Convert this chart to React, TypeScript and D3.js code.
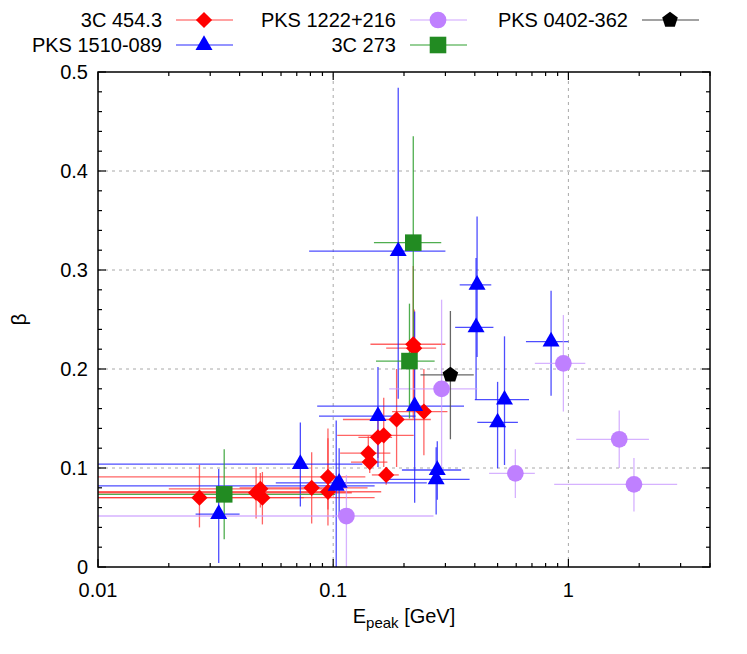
import React from 'react';
import * as d3 from 'd3';

// each row: [Epeak, Epeak low, Epeak high, beta, beta low, beta high]
const src3C454 = [
  [0.027, 0.005, 0.075, 0.07, 0.04, 0.103],
  [0.047, 0.005, 0.12, 0.075, 0.049, 0.101],
  [0.049, 0.02, 0.09, 0.079, 0.06, 0.095],
  [0.05, 0.005, 0.15, 0.07, 0.043, 0.096],
  [0.081, 0.04, 0.14, 0.08, 0.044, 0.116],
  [0.095, 0.005, 0.137, 0.091, 0.058, 0.14],
  [0.095, 0.005, 0.16, 0.076, 0.042, 0.13],
  [0.141, 0.107, 0.175, 0.115, 0.1, 0.132],
  [0.143, 0.119, 0.17, 0.106, 0.095, 0.115],
  [0.155, 0.128, 0.178, 0.131, 0.11, 0.15],
  [0.164, 0.104, 0.22, 0.133, 0.101, 0.171],
  [0.168, 0.146, 0.19, 0.093, 0.083, 0.101],
  [0.186, 0.11, 0.26, 0.149, 0.101, 0.2],
  [0.219, 0.144, 0.3, 0.225, 0.15, 0.304],
  [0.221, 0.168, 0.274, 0.221, 0.16, 0.26],
  [0.243, 0.178, 0.306, 0.157, 0.113, 0.2],
];

const srcPKS1510 = [
  [0.0326, 0.026, 0.04, 0.0535, 0.004, 0.099],
  [0.0725, 0.005, 0.133, 0.104, 0.061, 0.146],
  [0.103, 0.005, 0.15, 0.082, 0.0, 0.148],
  [0.106, 0.057, 0.25, 0.085, 0.05, 0.12],
  [0.155, 0.087, 0.224, 0.1525, 0.101, 0.202],
  [0.189, 0.079, 0.3, 0.319, 0.17, 0.484],
  [0.222, 0.0855, 0.36, 0.1626, 0.065, 0.258],
  [0.274, 0.164, 0.38, 0.0886, 0.053, 0.121],
  [0.277, 0.196, 0.35, 0.098, 0.068, 0.127],
  [0.405, 0.33, 0.48, 0.242, 0.169, 0.312],
  [0.409, 0.345, 0.47, 0.285, 0.212, 0.354],
  [0.5, 0.41, 0.61, 0.146, 0.0997, 0.187],
  [0.535, 0.4, 0.68, 0.169, 0.103, 0.233],
  [0.844, 0.66, 1.0, 0.2276, 0.173, 0.279],
];

const srcPKS1222 = [
  [0.1138, 0.005, 0.267, 0.0515, -0.01, 0.093],
  [0.289, 0.173, 0.41, 0.18, 0.101, 0.27],
  [0.595, 0.46, 0.72, 0.0946, 0.0697, 0.119],
  [0.952, 0.72, 1.18, 0.2057, 0.157, 0.2545],
  [1.645, 1.08, 2.2, 0.129, 0.1, 0.158],
  [1.9, 0.87, 2.9, 0.0835, 0.056, 0.11],
];

const src3C273 = [
  [0.0344, 0.005, 0.102, 0.0734, 0.028, 0.119],
  [0.211, 0.152, 0.27, 0.208, 0.15, 0.266],
  [0.219, 0.149, 0.288, 0.3276, 0.22, 0.435],
];

const srcPKS0402 = [[0.315, 0.235, 0.396, 0.194, 0.129, 0.2586]];

const yTicks = [0, 0.1, 0.2, 0.3, 0.4, 0.5];
const xTicks = [0.01, 0.1, 1];
const xTickLabels = ['0.01', '0.1', '1'];

const W = 747;
const H = 654;
const m = { left: 98, right: 37, top: 72, bottom: 87 };
const FONT = '"Liberation Sans", Arial, sans-serif';
const FS = 20;

const series = [
  { name: '3C 454.3', data: src3C454, fill: '#ff0000', err: '#ff3030', errOp: 0.75, shape: 'diamond' },
  { name: 'PKS 1510-089', data: srcPKS1510, fill: '#0000ff', err: '#2020ff', errOp: 0.8, shape: 'triangle' },
  { name: 'PKS 1222+216', data: srcPKS1222, fill: '#bf80ff', err: '#c898ff', errOp: 0.75, shape: 'circle' },
  { name: '3C 273', data: src3C273, fill: '#228b22', err: '#30a030', errOp: 0.85, shape: 'square' },
  { name: 'PKS 0402-362', data: srcPKS0402, fill: '#000000', err: '#555555', errOp: 0.9, shape: 'pentagon' },
];

const legendPos = [
  { col: 162, row: 20 },
  { col: 162, row: 45 },
  { col: 396, row: 20 },
  { col: 396, row: 45 },
  { col: 628, row: 20 },
];

const pentagon = (r: number) => {
  const pts = d3.range(5).map((i) => {
    const a = -Math.PI / 2 + (i * 2 * Math.PI) / 5;
    return [r * Math.cos(a), r * Math.sin(a)] as [number, number];
  });
  return 'M' + pts.map((p) => p.join(',')).join('L') + 'Z';
};

const markerPath = (shape: string) => {
  if (shape === 'diamond') return d3.symbol(d3.symbolSquare, 132)()!;
  if (shape === 'triangle') return d3.symbol(d3.symbolTriangle, 125)()!;
  if (shape === 'circle') return d3.symbol(d3.symbolCircle, 220)()!;
  if (shape === 'square') return d3.symbol(d3.symbolSquare, 275)()!;
  return pentagon(8.2);
};

const Marker = ({ shape, fill, x, y }: any) => (
  <path
    d={markerPath(shape)}
    fill={fill}
    transform={`translate(${x},${y})${shape === 'diamond' ? ' rotate(45)' : ''}`}
  />
);

export default function App() {
  const x = d3.scaleLog().domain([0.01, 4]).range([m.left, W - m.right]);
  const y = d3.scaleLinear().domain([0, 0.5]).range([H - m.bottom, m.top]);
  const [x0, x1] = x.range();
  const [y0, y1] = y.range();

  const minorX: number[] = [];
  [0.01, 0.1, 1].forEach((dec) => {
    for (let k = 2; k <= 9; k++) if (dec * k <= 4) minorX.push(dec * k);
  });
  const minorY = d3.range(0, 0.5001, 0.02);

  return (
    <svg
      width={W}
      height={H}
      style={{ position: 'fixed', left: 0, top: 0, background: '#fff' }}
      fontFamily={FONT}
    >
      <defs>
        <clipPath id="plot">
          <rect x={x0} y={y1} width={x1 - x0} height={y0 - y1} />
        </clipPath>
      </defs>

      {/* grid */}
      <g stroke="#a8a8a8" strokeWidth={1} strokeDasharray="3,4">
        {xTicks.slice(1).map((t) => (
          <line key={t} x1={x(t)} x2={x(t)} y1={y0} y2={y1} />
        ))}
        {yTicks.slice(1, -1).map((t) => (
          <line key={t} x1={x0} x2={x1} y1={y(t)} y2={y(t)} />
        ))}
      </g>

      {/* error bars */}
      <g clipPath="url(#plot)">
        {series.map((s) => (
          <g key={s.name} stroke={s.err} strokeOpacity={s.errOp} strokeWidth={1.3}>
            {s.data.map((d, i) => (
              <g key={i}>
                <line x1={x(d[1])} x2={x(d[2])} y1={y(d[3])} y2={y(d[3])} />
                <line x1={x(d[0])} x2={x(d[0])} y1={y(d[4])} y2={y(d[5])} />
              </g>
            ))}
          </g>
        ))}
        {series.map((s) => (
          <g key={s.name}>
            {s.data.map((d, i) => (
              <Marker key={i} shape={s.shape} fill={s.fill} x={x(d[0])} y={y(d[3])} />
            ))}
          </g>
        ))}
      </g>

      {/* ticks */}
      <g stroke="#000" strokeWidth={1.2}>
        {xTicks.map((t) => (
          <g key={t}>
            <line x1={x(t)} x2={x(t)} y1={y0} y2={y0 - 8} />
            <line x1={x(t)} x2={x(t)} y1={y1} y2={y1 + 8} />
          </g>
        ))}
        {minorX.map((t) => (
          <g key={t}>
            <line x1={x(t)} x2={x(t)} y1={y0} y2={y0 - 4} />
            <line x1={x(t)} x2={x(t)} y1={y1} y2={y1 + 4} />
          </g>
        ))}
        {minorY.map((t, i) => {
          const len = i % 5 === 0 ? 8 : 4;
          return (
            <g key={i}>
              <line x1={x0} x2={x0 + len} y1={y(t)} y2={y(t)} />
              <line x1={x1} x2={x1 - len} y1={y(t)} y2={y(t)} />
            </g>
          );
        })}
      </g>
      <rect x={x0} y={y1} width={x1 - x0} height={y0 - y1} fill="none" stroke="#000" strokeWidth={1.5} />

      {/* tick labels */}
      <g fontSize={FS} fill="#000">
        {yTicks.map((t) => (
          <text key={t} x={x0 - 10} y={y(t)} dy="0.35em" textAnchor="end">
            {t}
          </text>
        ))}
        {xTicks.map((t, i) => (
          <text key={t} x={x(t)} y={y0 + 23} dy="0.35em" textAnchor="middle">
            {xTickLabels[i]}
          </text>
        ))}
      </g>

      {/* axis titles */}
      <text fontSize={21} textAnchor="middle" transform={`translate(26,${(y0 + y1) / 2}) rotate(-90)`}>
        β
      </text>
      <text x={(x0 + x1) / 2} y={y0 + 56} fontSize={FS} textAnchor="middle">
        E<tspan fontSize={15} dy={5}>peak</tspan>
        <tspan dy={-5}> [GeV]</tspan>
      </text>

      {/* legend */}
      {series.map((s, i) => {
        const p = legendPos[i];
        return (
          <g key={s.name}>
            <text x={p.col} y={p.row} dy="0.35em" fontSize={FS} textAnchor="end">
              {s.name}
            </text>
            <line
              x1={p.col + 14}
              x2={p.col + 71}
              y1={p.row}
              y2={p.row}
              stroke={s.err}
              strokeOpacity={s.errOp * 0.8}
              strokeWidth={1.5}
            />
            <Marker shape={s.shape} fill={s.fill} x={p.col + 42} y={p.row} />
          </g>
        );
      })}
    </svg>
  );
}
